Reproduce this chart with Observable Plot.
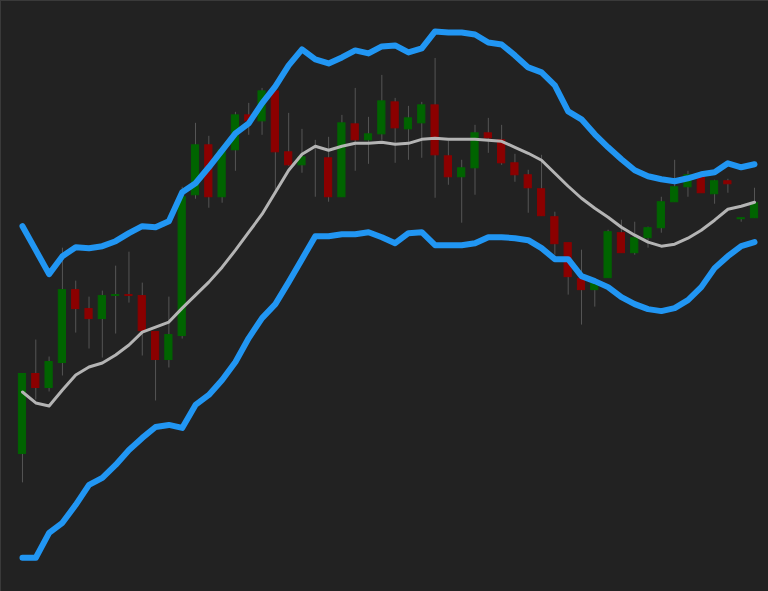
<!DOCTYPE html>
<html>
<head>
<meta charset="utf-8">
<script src="https://cdn.jsdelivr.net/npm/d3@7"></script>
<script src="https://cdn.jsdelivr.net/npm/@observablehq/plot@0.6"></script>
<style>
  html, body { margin: 0; padding: 0; background: #222222; overflow: hidden; }
  #chart { border-top: 1px solid #3a3a3a; border-left: 1px solid #3a3a3a; width: 767px; height: 590px; overflow: hidden; }
  #chart svg { display: block; }
</style>
</head>
<body>
<div id="chart"></div>
<script>
// OHLC prices, one entry per session
const open  = [59.2, 75.2, 72.4, 77.4, 92.0, 88.2, 86.2, 90.84, 91.0, 90.8,
               83.6, 78.0, 82.8, 111.0, 121.0, 110.6, 120.0, 127.0, 125.8, 131.8,
               119.6, 117.0, 118.4, 118.4, 110.6, 125.2, 122.0, 123.2, 129.6, 124.2,
               125.4, 129.0, 118.8, 114.6, 116.4, 123.4, 122.0, 117.4, 115.0, 112.2,
               106.6, 101.4, 94.2, 92.0, 94.4, 103.4, 99.4, 102.4, 104.4, 109.6,
               112.6, 114.6, 111.2, 113.8, 106.2, 106.4, 109.4];
const high  = [75.2, 82.0, 78.6, 100.4, 93.8, 90.6, 91.8, 96.8, 99.6, 93.4,
               83.6, 90.6, 112.6, 125.4, 122.8, 120.6, 127.6, 129.4, 132.4, 132.4,
               127.4, 124.2, 122.0, 122.6, 127.0, 132.4, 126.6, 135.0, 130.4, 128.8,
               129.6, 138.4, 121.8, 118.0, 125.0, 126.4, 125.0, 119.2, 116.0, 119.0,
               107.6, 101.4, 100.0, 94.0, 104.0, 106.0, 105.6, 104.6, 110.6, 118.0,
               115.8, 115.0, 114.0, 114.2, 106.4, 112.4, 109.4];
const low   = [53.4, 70.0, 71.6, 74.8, 83.4, 80.2, 78.4, 83.2, 89.4, 78.8,
               69.8, 76.4, 82.2, 110.2, 108.4, 109.4, 115.8, 123.0, 123.0, 112.0,
               116.8, 115.4, 110.6, 109.6, 110.6, 115.8, 117.2, 122.0, 117.4, 118.0,
               118.4, 110.4, 113.0, 105.4, 111.0, 119.4, 117.0, 113.6, 107.4, 106.8,
               99.0, 91.0, 85.0, 88.6, 94.4, 99.4, 99.0, 100.4, 103.4, 109.6,
               110.6, 111.4, 109.2, 111.4, 105.6, 106.4, 109.4];
const close = [75.2, 72.4, 77.6, 92.0, 88.2, 86.2, 90.8, 91.0, 90.84, 83.8,
               78.0, 83.0, 110.6, 121.0, 110.6, 120.0, 127.0, 125.8, 131.8, 119.6,
               117.0, 118.6, 118.4, 110.6, 125.4, 122.0, 123.2, 129.8, 124.4, 126.4,
               129.0, 119.0, 114.6, 116.4, 123.4, 122.4, 117.4, 115.0, 112.4, 106.8,
               101.2, 94.6, 92.0, 93.4, 103.6, 99.4, 102.4, 104.4, 109.6, 112.6,
               115.0, 111.4, 113.8, 113.2, 106.4, 109.4, 109.4];

// Bollinger bands
const upperBand = [104.8, 100.0, 95.2, 98.8, 100.6, 100.4, 100.8, 101.8, 103.4, 104.8,
                   104.6, 105.8, 111.6, 113.4, 116.6, 120.0, 123.4, 125.4, 129.4, 132.8,
                   137.0, 140.2, 138.2, 137.4, 138.6, 140.0, 139.4, 140.8, 141.0, 139.6,
                   140.4, 143.8, 143.6, 143.6, 143.2, 141.6, 141.2, 139.0, 136.6, 135.6,
                   133.0, 127.8, 126.2, 123.2, 120.6, 118.2, 116.0, 114.8, 114.2, 113.8,
                   114.4, 115.2, 115.6, 117.4, 116.6, 117.2];
const middleBand = [71.6, 69.4, 68.8, 72.0, 75.0, 76.6, 77.4, 79.0, 81.0, 83.6,
                    84.6, 85.6, 88.4, 91.0, 93.6, 96.6, 100.0, 103.6, 107.2, 111.6,
                    116.0, 119.2, 120.8, 120.0, 120.8, 121.4, 121.4, 121.6, 121.2, 121.4,
                    122.2, 122.4, 122.2, 122.2, 122.2, 122.0, 121.8, 120.6, 119.4, 118.0,
                    115.4, 112.8, 110.4, 108.4, 106.6, 104.6, 103.0, 101.6, 100.8, 101.2,
                    102.4, 104.0, 106.0, 108.2, 108.8, 109.6];
const lowerBand = [38.4, 38.4, 43.4, 45.4, 49.0, 53.0, 54.4, 57.0, 60.0, 62.4,
                   64.6, 65.0, 64.4, 69.0, 71.0, 74.0, 77.6, 82.4, 86.4, 89.2,
                   93.6, 98.2, 102.8, 102.8, 103.2, 103.2, 103.6, 102.6, 101.4, 103.4,
                   103.6, 101.0, 101.0, 101.0, 101.4, 102.6, 102.6, 102.4, 102.0, 100.4,
                   98.2, 98.2, 94.8, 93.8, 92.6, 90.6, 89.2, 88.2, 87.8, 88.4,
                   90.0, 92.6, 96.4, 98.8, 100.8, 101.6];

const candles = open.map((o, i) => ({i, open: o, high: high[i], low: low[i], close: close[i]}));
const bands = upperBand.map((u, i) => ({i, upper: u, middle: middleBand[i], lower: lowerBand[i]}));

const colorOf = d => d.close > d.open ? "#006400" : d.close < d.open ? "#8b0000" : "#555555";

const chart = Plot.plot({
  width: 768,
  height: 591,
  marginLeft: 21,
  marginRight: 14,
  marginTop: 0,
  marginBottom: 0,
  style: {background: "#222222"},
  x: {type: "linear", domain: [0, 55], axis: null},
  y: {domain: [31.6, 149.8], axis: null},
  marks: [
    Plot.ruleX(candles, {x: "i", y1: "low", y2: "high", stroke: "#555555", strokeWidth: 1}),
    Plot.rect(candles, {
      x1: d => d.i - 0.27, x2: d => d.i + 0.27,
      y1: "open", y2: "close",
      fill: colorOf, stroke: colorOf, strokeWidth: 1
    }),
    Plot.line(bands, {x: "i", y: "middle", stroke: "#b4b4b4", strokeWidth: 3, strokeLinejoin: "round"}),
    Plot.line(bands, {x: "i", y: "upper", stroke: "#2196f3", strokeWidth: 6, strokeLinejoin: "round"}),
    Plot.line(bands, {x: "i", y: "lower", stroke: "#2196f3", strokeWidth: 6, strokeLinejoin: "round"})
  ]
});
document.getElementById("chart").appendChild(chart);
</script>
</body>
</html>
